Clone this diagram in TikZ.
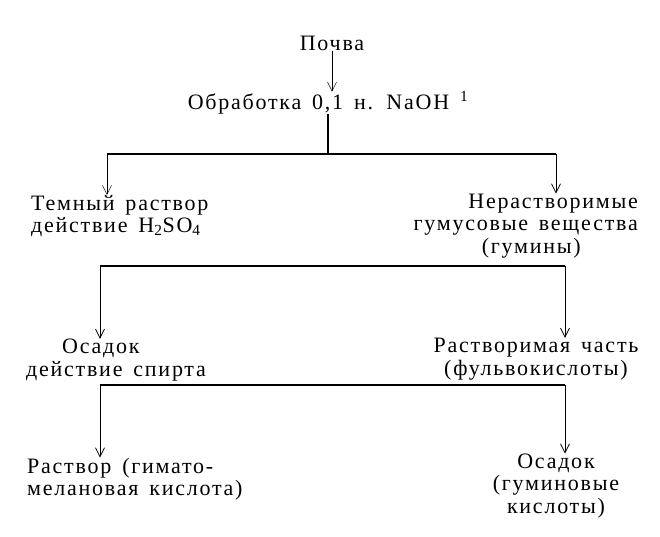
\documentclass[tikz,border=0pt]{standalone}
\usepackage{fontspec}
\setmainfont{Liberation Serif}[LetterSpace=8,WordSpace=1.5]
\usetikzlibrary{arrows.meta}
\tikzset{
  txt/.style={inner sep=0pt, font=\fontsize{22}{22.5}\selectfont},
  arr/.style={-{Straight Barb[length=9pt,width=9pt]}, line width=0.8pt},
  bus/.style={line width=1.2pt}
}
\begin{document}
\begin{tikzpicture}[x=1pt,y=-1pt]
\useasboundingbox (0,0) rectangle (660,537);
\node[txt] (soil) at (332,43) {Почва};
\node[txt] (naoh) at (328,103) {Обработка 0,1 н. NaOH \textsuperscript{1}};
\node[txt, anchor=west, align=left] (dark) at (31,216) {Темный раствор\\действие H\textsubscript{2}SO\textsubscript{4}};
\node[txt, anchor=east, align=right] (humin) at (638,226) {Нерастворимые\\гумусовые вещества\\(гумины)\hspace*{57pt}};
\node[txt, anchor=west, align=left] (prec) at (26,360) {\hspace*{36pt}Осадок\\действие спирта};
\node[txt, align=center] (fulv) at (536,359) {Растворимая часть\\(фульвокислоты)};
\node[txt, anchor=west, align=left] (hymat) at (27,479) {Раствор (гимато-\\мелановая кислота)};
\node[txt, align=center] (humac) at (556,486) {Осадок\\(гуминовые\\кислоты)};
\coordinate (b1l) at (107,154);
\coordinate (b1r) at (556,154);
\coordinate (b2l) at (100,266);
\coordinate (b2r) at (565,266);
\coordinate (b3l) at (100,385);
\coordinate (b3r) at (565,385);
\draw[arr, line width=0.5pt] (soil.south) -- (soil.south |- naoh.north);
\draw[bus] (naoh.south) -- (naoh.south |- b1l);
\draw[bus] (b1l) -- (b1r);
\draw[arr, line width=0.5pt] (b1l) -- (b1l |- dark.north);
\draw[arr] (b1r) -- (b1r |- humin.north);
\draw[bus] (b2l) -- (b2r);
\draw[arr] (b2l) -- (b2l |- prec.north);
\draw[arr] (b2r) -- (b2r |- fulv.north);
\draw[bus] (b3l) -- (b3r);
\draw[arr] (b3l) -- (b3l |- hymat.north);
\draw[arr] (b3r) -- (b3r |- humac.north);
\end{tikzpicture}
\end{document}
